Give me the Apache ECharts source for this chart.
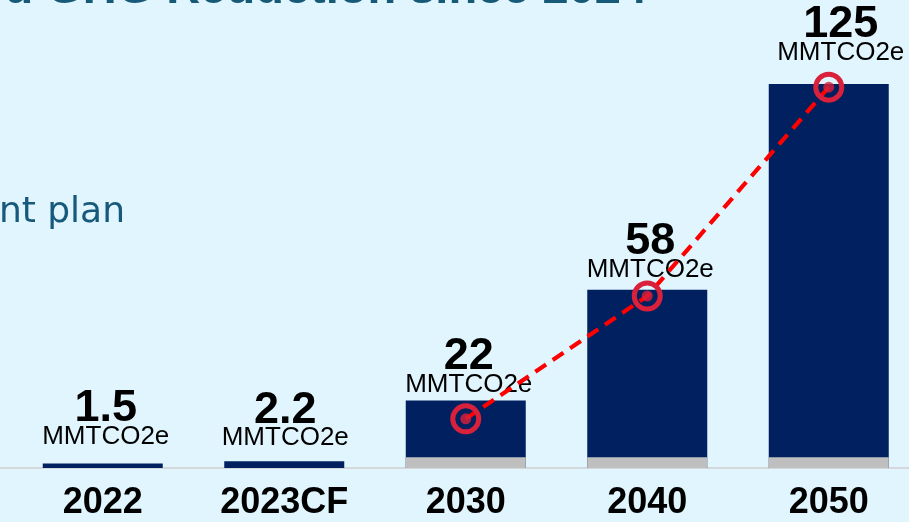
<!DOCTYPE html>
<html>
<head>
<meta charset="utf-8">
<script src="https://cdn.jsdelivr.net/npm/echarts@6/dist/echarts.min.js"></script>
<style>
html,body{margin:0;padding:0;background:#e1f5fe;overflow:hidden;width:909px;height:522px;}
#chart{width:920px;height:522px;}
</style>
</head>
<body>
<div id="chart"></div>
<script>
// ---- data ----
const categories = ['2022', '2023CF', '2030', '2040', '2050'];
const reductionValues = [1.5, 2.2, 22, 58, 125];          // MMTCO2e (bar labels)
const baseValues = [0, 0, 3.5, 3.5, 3.5];                  // grey base segment
const trendValues = [null, null, 16, 56, 124];             // red dashed trend line
const unitLabel = 'MMTCO2e';
const titleText = 'd GHG Reduction since 2024';
const sideText = 'nt plan';

// ---- styles (not data) ----
const labelDistance = [14, 10, 3, 7, 18];
const labelOffsetX = [3, 1, 3, 3, 12];
const FONT = "'Liberation Sans', Arial, sans-serif";

const chart = echarts.init(document.getElementById('chart'), null, {renderer: 'canvas'});

const barData = reductionValues.map((v, i) => ({
  value: v,
  label: {distance: labelDistance[i], offset: [labelOffsetX[i], 0]}
}));

const option = {
  backgroundColor: '#e1f5fe',
  animation: false,
  graphic: [
    {type: 'text', x: 647, y: -9.5,
     style: {text: titleText, fill: '#175a78', font: "bold 47px " + FONT, align: 'right', verticalAlign: 'middle'}},
    {type: 'text', x: 125, y: 213,
     style: {text: sideText, fill: '#17597a', font: "36px 'DejaVu Sans', Verdana, sans-serif", align: 'right', verticalAlign: 'middle'}},
    {type: 'line', shape: {x1: 0, y1: 468, x2: 14, y2: 468},
     style: {stroke: '#d4d8db', lineWidth: 2}}
  ],
  grid: {left: 12, right: 0.5, top: 38, bottom: 54, containLabel: false},
  xAxis: {
    type: 'category',
    data: categories,
    boundaryGap: true,
    axisLine: {show: true, lineStyle: {color: '#d4d8db', width: 2}},
    axisTick: {show: false},
    axisLabel: {color: '#000', fontSize: 36, fontWeight: 'bold', fontFamily: FONT, margin: 17, interval: 0}
  },
  yAxis: {
    type: 'value', min: 0, max: 140, show: false,
    splitLine: {show: false}
  },
  series: [
    {
      name: 'Reduction',
      type: 'bar',
      data: barData,
      barWidth: 120,
      barGap: '-100%',
      itemStyle: {color: '#002060'},
      z: 2,
      label: {
        show: true,
        position: 'top',
        formatter: (p) => '{v|' + reductionValues[p.dataIndex] + '}\n{u|' + unitLabel + '}',
        rich: {
          v: {fontSize: 45, fontWeight: 'bold', fontFamily: FONT, color: '#000', lineHeight: 30, align: 'center'},
          u: {fontSize: 26, fontFamily: FONT, color: '#000', lineHeight: 26, align: 'center'}
        }
      }
    },
    {
      name: 'Base',
      type: 'bar',
      data: baseValues,
      barWidth: 120,
      barGap: '-100%',
      itemStyle: {color: '#bfbfbf'},
      z: 3,
      silent: true
    },
    {
      name: 'Trend',
      type: 'line',
      data: trendValues,
      connectNulls: false,
      symbol: 'circle',
      symbolSize: 26,
      lineStyle: {color: '#ff0000', width: 4.2, type: [13, 8]},
      itemStyle: {color: 'rgba(0,0,0,0)', borderColor: '#d9213c', borderWidth: 5},
      z: 5
    },
    {
      name: 'TrendDot',
      type: 'scatter',
      data: trendValues,
      symbol: 'circle',
      symbolSize: 11,
      itemStyle: {color: '#d9213c'},
      z: 6
    }
  ]
};
chart.setOption(option);
</script>
</body>
</html>
